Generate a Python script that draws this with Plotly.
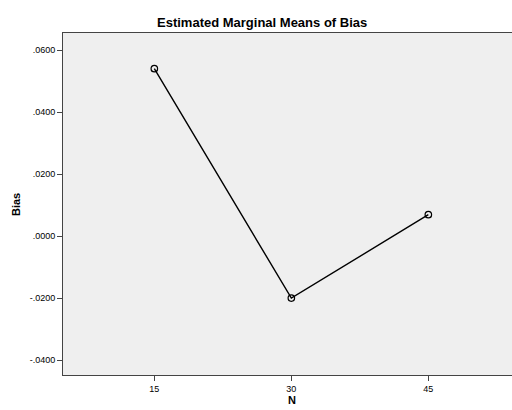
import plotly.graph_objects as go

n_levels = [15, 30, 45]
bias_means = [0.0540, -0.0200, 0.0069]
y_tickvals = [0.06, 0.04, 0.02, 0.0, -0.02, -0.04]
y_ticktext = [".0600", ".0400", ".0200", ".0000", "-.0200", "-.0400"]
x_tickvals = [15, 30, 45]
x_ticktext = ["15", "30", "45"]

W, H = 512, 410
L, T, B, R = 63, 33, 35, 0

fig = go.Figure()
fig.add_trace(go.Scatter(
    x=n_levels, y=bias_means, mode="lines+markers",
    line=dict(color="black", width=1.4),
    marker=dict(symbol="circle-open", size=6.5, color="black", line=dict(width=1.2)),
    showlegend=False,
))

fig.update_layout(
    width=W, height=H,
    margin=dict(l=L, r=R, t=T, b=B),
    paper_bgcolor="white",
    plot_bgcolor="#EFEFEF",
    font=dict(family="Arial, Liberation Sans, sans-serif", size=9, color="black"),
    xaxis=dict(
        range=[5, 54.16], tickvals=x_tickvals, ticktext=x_ticktext,
        showgrid=False, zeroline=False, showline=True, linecolor="#444", linewidth=1,
        mirror=True, ticks="outside", ticklen=5, tickcolor="#444",
    ),
    yaxis=dict(
        range=[-0.0448, 0.0655], tickvals=y_tickvals, ticktext=y_ticktext,
        showgrid=False, zeroline=False, showline=True, linecolor="#444", linewidth=1,
        ticks="outside", ticklen=5, tickcolor="#444",
    ),
    annotations=[
        dict(text="<b>Estimated Marginal Means of Bias</b>", xref="paper", yref="paper",
             x=(262 - L) / (W - L - R), y=1 + (33 - 22.7) / (H - T - B),
             showarrow=False, font=dict(size=13), xanchor="center", yanchor="middle"),
        dict(text="<b>Bias</b>", xref="paper", yref="paper",
             x=-(L - 16) / (W - L - R), y=(H - B - 205) / (H - T - B),
             textangle=-90, showarrow=False, font=dict(size=11),
             xanchor="center", yanchor="middle"),
        dict(text="<b>N</b>", xref="paper", yref="paper",
             x=(292 - L) / (W - L - R), y=-(400.5 - (H - B)) / (H - T - B),
             showarrow=False, font=dict(size=11), xanchor="center", yanchor="middle"),
    ],
)

fig.write_html("out.html")
